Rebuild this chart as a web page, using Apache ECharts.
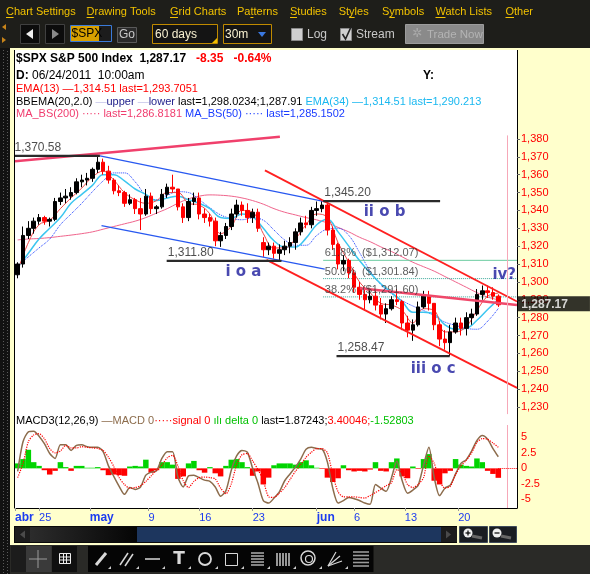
<!DOCTYPE html>
<html><head><meta charset="utf-8">
<script src="https://cdn.jsdelivr.net/npm/echarts@6/dist/echarts.min.js"></script>
<style>html,body{margin:0;padding:0;background:#1e1e1a;overflow:hidden}#c{width:590px;height:574px}</style>
</head><body><div id="c"></div><script>
// ---------------- DATA ----------------
// x axis: half-day slots (0 = 20 Apr 2011 am ... 90 = 24 Jun 2011 10:00am)
const xTickSlots  = [-0.5, 4, 13.5, 24.5, 34, 44, 56, 63, 72.5, 82.5];
const xTickLabels = ['abr','25','may','9','16','23','jun','6','13','20'];
const monthLabels = ['abr','may','jun'];
const priceTicks = [1230,1240,1250,1260,1270,1280,1290,1300,1310,1320,1330,1340,1350,1360,1370,1380];
const macdTicks = [-5,-2.5,0,2.5,5];
const lastClose = 1287.17;
const cursorSlot = 91.7;

// OHLC per half-day slot: [open, close, low, high]
const ohlc = [
[1304,1310,1302,1311],[1310,1326,1308,1331],[1326,1330,1324,1334],[1330,1334,1327,1336],[1334,1336,1332,1338],
[1336,1334,1332,1337],[1334,1335,1331,1336],[1335,1345,1334,1347],[1345,1347,1343,1350],[1347,1348,1344,1352],
[1348,1350,1346,1353],[1350,1356,1349,1358],[1356,1357,1353,1360],[1357,1358,1354,1361],[1358,1363,1356,1364],
[1363,1367,1361,1370.58],[1367,1362,1360,1369],[1362,1357,1355,1365],[1357,1351,1349,1358],[1351,1350,1348,1354],
[1350,1344,1342,1351],[1344,1346,1343,1349],[1346,1341,1338,1347],[1341,1338,1329,1347],[1338,1348,1337,1352],
[1348,1341,1338,1350],[1341,1342,1338,1343],[1342,1349,1341,1352],[1349,1353,1347,1355],[1353,1352,1350,1360],
[1352,1342,1340,1352],[1342,1336,1333,1344],[1336,1345,1334,1347],[1345,1347,1343,1350],[1347,1338,1335,1350],
[1338,1336,1333,1341],[1336,1334,1331,1338],[1334,1323,1320,1336],[1323,1326,1319.6,1328],[1326,1331,1324,1333],
[1331,1338,1329,1341],[1338,1343,1336,1346],[1343,1340,1337,1345],[1340,1336,1333,1344],[1336,1339,1333,1341],
[1339,1330,1328,1341],[1322,1318,1314,1325],[1318,1320,1315,1322],[1320,1316,1313,1322],[1316,1318,1311.8,1321],
[1318,1320,1315,1323],[1320,1322,1316,1325],[1322,1328,1318,1330],[1328,1333,1326,1336],[1333,1332,1330,1337],
[1332,1340,1330,1342],[1340,1341,1337,1345],[1341,1343,1339,1345.2],[1343,1329,1326,1344],[1329,1321,1318,1331],
[1321,1310,1307,1322],[1310,1312,1306,1315],[1312,1305,1302,1313],[1305,1297,1294,1307],[1297,1293,1290,1300],
[1293,1290,1284,1297],[1290,1292,1288,1296],[1292,1287,1284,1295],[1287,1282,1279,1291],[1282,1285,1277,1288],
[1285,1290,1284,1292],[1290,1289,1287,1296],[1289,1277,1273,1290],[1277,1273,1269,1281],[1273,1276,1267,1279],
[1276,1286,1275,1289],[1286,1292,1285,1295],[1292,1288,1284,1295],[1288,1276,1273,1288],[1276,1268,1264,1278],
[1268,1266,1262,1273],[1266,1272,1258.47,1276],[1272,1277,1271,1280],[1277,1274,1270,1280],[1274,1280,1270,1283],
[1280,1282,1276,1285],[1282,1293,1281,1296],[1293,1295,1290,1298],[1295,1294,1291,1298],[1294,1292,1290,1297],
[1292,1287.17,1286,1293]
];

// studies, one value per day (placed on slots 0,2,4,...,90)
const ema13 = [1306,1322,1332,1334.5,1341,1347,1352.5,1358.7,1362,1357,1350,1346,1344,1345.5,1350,1350,1344,1343,1338,1327,1331,1340,1339,1327,1319,1319,1324,1332,1338,1336,1322,1311,1300,1294,1288,1287,1284,1277,1285,1284,1272,1272,1275,1284,1292,1293.7];
const ema34 = [1308,1316,1324,1330,1336,1344,1349,1354,1360,1360,1356.5,1352,1349,1345.5,1347,1348,1346,1344,1341,1336,1335.5,1338,1336.5,1330,1323,1319.5,1319.5,1324.5,1332,1335,1328,1320,1312,1305,1299,1294,1289,1283,1283,1282,1276,1273.5,1274,1278.5,1284.5,1290.2];
const ma50  = [1309,1314,1319,1324,1332,1338,1344,1350.5,1356.5,1361,1361,1356,1348.5,1346,1348.5,1350.5,1350,1346,1341.5,1337.5,1335.5,1334.8,1335.8,1334.5,1329,1323.5,1320.5,1320.5,1326,1329.5,1330,1326,1316.5,1306,1298.5,1293.5,1289.5,1286.5,1284,1281,1277.5,1275.7,1274,1273.5,1278,1285.15];
const ma200 = [1323.5,1324,1324.3,1324.8,1325.5,1326.2,1327,1328,1329.5,1331,1332.5,1334,1336,1338.5,1341,1344,1346.5,1348,1348.7,1348.5,1348,1347,1345.5,1343.5,1341,1339,1337.5,1336,1334.7,1333,1330.5,1328,1325,1322.5,1319.6,1317,1314,1311,1308.5,1306,1303,1300,1297,1294,1291.5,1290];
const bbUpper = [1320,1342,1341,1338.5,1352,1357,1361,1366,1371,1365,1362,1359,1356.5,1356,1361,1360,1357.5,1354,1350,1345,1347,1349,1347,1341,1332,1327,1324,1331,1341,1345,1342,1334,1324,1314,1306,1300,1297,1295,1293,1291,1285,1281,1283,1290,1299,1298];
const bbLower = [1296,1303,1312,1322,1329,1336,1341,1347,1355,1345,1341,1338,1337,1339,1341.5,1338,1337,1335,1330,1320.5,1325,1330,1332,1314,1310,1312,1314,1316,1321,1322,1316,1301,1291,1286,1282,1281,1277,1266,1270,1270,1259,1263,1265,1270,1280,1285];

// MACD(12,26,9) per half-day slot
const macd = [-0.5,4.3,5.9,6.0,5.2,4.0,2.4,1.6,3.8,3.8, 2.9,3.7,3.8,3.5,3.4,3.4,2.7,0.4,-1.3,-2.9, -4.2,-3.1,-3.4,-3.0,-1.1,-0.6,-0.4,1.6,2.7,2.7, -1.4,-3.0,-1.2,-1.1,-1.5,-1.9,-2.1,-3.0,-4.5,-3.6, -0.3,2.0,2.9,2.6,0.0,-2.4,-5.2,-5.6,-4.8,-3.8, -2.0,-0.9,0.2,1.5,3.1,3.4,3.2,3.1,1.0,-3.2, -5.6,-5.2,-4.7,-4.9,-5.2,-5.6,-5.8,-2.6,-3.2,-3.7, -1.5,1.2,-2.0,-4.0,-3.5,-2.7,0.5,3.4,-1.5,-4.4, -3.2,-2.7,-0.9,0.8,1.4,2.8,4.5,5.3,4.7,3.2, 1.87];
const signal = [-1.5,0.8,4.3,5.4,5.6,4.8,3.2,2.5,2.8,3.7, 3.3,3.3,3.5,3.4,3.3,3.2,2.9,1.8,0.3,-1.5, -2.6,-3.2,-3.1,-2.8,-2.1,-1.2,-0.3,0.5,1.7,2.1, 0.4,-2.0,-3.1,-2.1,-1.5,-1.4,-1.5,-1.7,-3.2,-4.1, -2.5,0.6,2.2,2.4,1.2,-0.2,-2.0,-4.6,-4.7,-4.0, -3.1,-1.8,-0.5,0.6,1.8,2.6,3.2,3.2,2.5,-1.0, -3.8,-4.6,-4.6,-4.6,-4.7,-4.8,-4.4,-3.9,-3.4,-2.8, -2.3,-0.2,-0.8,-2.6,-3.1,-2.6,-1.5,2.0,0.8,-2.0, -3.2,-2.9,-1.0,0.4,1.3,2.5,4.2,4.8,4.7,4.1, 3.40];
const delta = [0.8,1.5,3.0,1.0,0.4,-0.3,-1.0,-0.4,1.0,0.2, -0.4,0.4,0.4,0.1,0.1,0.2,-0.3,-1.1,-1.0,-1.1, -1.2,0.3,0.4,0.3,1.4,-0.7,-0.3,1.0,1.0,0.6, -1.7,-1.3,0.8,1.2,-0.3,-0.7,0.2,-0.8,-1.3,0.4, 1.4,1.5,1.0,0.2,-1.2,-0.5,-2.6,-1.5,0.5,0.8, 0.8,0.8,0.6,1.0,1.3,0.5,0.1,-0.1,-1.5,-2.2, -1.6,0.5,-0.3,-0.5,-0.4,-0.5,-0.2,1.0,-0.4,-0.5, 1.0,1.6,-1.3,-1.6,0.3,-0.1,1.5,2.3,-2.0,-2.6, -0.8,-0.4,1.5,0.6,0.4,0.3,1.6,1.0,-0.4,-0.9, -1.53];

// drawn trend lines [slot, price]
const pinkTopLine   = [[-0.5,1367.5],[49.1,1381.3]];
const blueUpperLine = [[15.4,1370.5],[57.5,1344.9]];
const blueLowerLine = [[15.7,1331.5],[57.5,1307.1]];
const redUpperLine  = [[46.3,1362.4],[93.5,1289.0]];
const redLowerLine  = [[46.6,1312.3],[93.5,1240.7]];
const pinkLowLine   = [[64.1,1296.5],[93.5,1287.1]];
// horizontal swing levels
const levelValues = [1370.58,1345.20,1311.80,1258.47];
const levelStart  = [-0.5,57.2,27.9,59.7];
const levelEnd    = [15.4,79.1,49.4,80.9];
// wave labels
const waveText = ['i o a','ii o b','iii o c','iv?'];
const waveX = [38.8,64.7,73.5,88.8];
const waveY = [1305.2,1338.8,1251.3,1303.7];
// fibonacci retracement
const fibPct = ['61.8%','50.0%','38.2%'];
const fibVal = [1312.07,1301.84,1291.60];
const fibFrom = 57.2, fibTo = 93.5;

// ---------------- helpers ----------------
const F = 'Liberation Sans, Arial, sans-serif';
const CLEAR = 'rgba(0,0,0,0)';
function fmt(v,d){ return v.toFixed(d).replace(/\B(?=(\d{3})+(?!\d))/g, ','); }
const daySlots = a => a.map((v,i)=>[i*2, v]);

const chart = echarts.init(document.getElementById('c'), null, {renderer:'canvas'});

function lineSeries(pts, color, width, type, z){
  return {type:'line', xAxisIndex:0, yAxisIndex:0, data:pts, symbol:'none', silent:true,
    lineStyle:{color:color, width:width, type:type||'solid'}, z:z||4, animation:false};
}

const series = [];
series.push({type:'line', xAxisIndex:0,yAxisIndex:0, data:daySlots(bbLower), stack:'bb', symbol:'none', smooth:0.4,
  lineStyle:{width:0,color:CLEAR}, z:1, silent:true});
series.push({type:'line', xAxisIndex:0,yAxisIndex:0, data:bbUpper.map((v,i)=>[i*2, v-bbLower[i]]), stack:'bb', symbol:'none', smooth:0.4,
  lineStyle:{width:0,color:CLEAR}, areaStyle:{color:'#dcdcf2',opacity:1}, z:1, silent:true});
series.push({type:'line', xAxisIndex:0,yAxisIndex:0, data:daySlots(ma200), symbol:'none', smooth:0.4,
  lineStyle:{color:'#f0648c',width:1}, z:2, silent:true,
  markLine:{silent:true,symbol:'none',label:{show:false},data:[{xAxis:cursorSlot}],lineStyle:{color:'#f6a8b8',width:1,type:'solid'}}});
series.push({type:'line', xAxisIndex:0,yAxisIndex:0, data:daySlots(ma50), symbol:'none', smooth:0.4,
  lineStyle:{color:'#1e40ff',width:1,type:'dotted'}, z:2, silent:true});
series.push({type:'line', xAxisIndex:0,yAxisIndex:0, data:daySlots(ema34), symbol:'none', smooth:0.4,
  lineStyle:{color:'#3cc6f0',width:1.5}, z:2, silent:true});
series.push({type:'candlestick', xAxisIndex:0,yAxisIndex:0, data:ohlc.map((d,k)=>[k,d[0],d[1],d[2],d[3]]),
  encode:{x:0,y:[1,2,3,4]}, barWidth:4, z:3, silent:true,
  itemStyle:{color:'#000',color0:'#ff0000',borderColor:'#000',borderColor0:'#ff0000',borderWidth:1}});
series.push({type:'line', xAxisIndex:0,yAxisIndex:0, data:daySlots(ema13), symbol:'none', smooth:0.4,
  lineStyle:{color:'#f04848',width:1}, z:3, silent:true});
// trend lines
series.push(lineSeries(pinkTopLine,'#f0406c',2.5));
series.push(lineSeries(blueUpperLine,'#2858f0',1.2));
series.push(lineSeries(blueLowerLine,'#2858f0',1.2));
series.push(lineSeries(redUpperLine,'#ff2020',1.8));
series.push(lineSeries(redLowerLine,'#ff2020',1.8));
series.push(lineSeries(pinkLowLine,'#f0486a',2.5));
levelValues.forEach((v,i)=>series.push(lineSeries([[levelStart[i],v],[levelEnd[i],v]],'#2a2a2a',2.2,'solid',5)));
fibVal.forEach((v,i)=>series.push(lineSeries([[fibFrom,v],[fibTo,v]], i===0?'#6ccca0':'#3aa898', 1, i===0?'solid':'dotted',2)));
// annotation texts
const ann = [];
levelValues.forEach((v,i)=>ann.push({value:[levelStart[i]+(i===0?0:0.3), v],
  label:{show:true,position:[0,-14],formatter:fmt(v,2),fontSize:12,color:'#222',fontFamily:F}}));
waveText.forEach((t,i)=>ann.push({value:[waveX[i],waveY[i]],
  label:{show:true,position:'right',distance:0,formatter:t,fontSize:15,fontWeight:'bold',color:'#1c1c9c',fontFamily:'DejaVu Sans'}}));
fibPct.forEach((t,i)=>ann.push({value:[fibFrom+0.4,fibVal[i]],
  label:{show:true,position:[0,-12],formatter:t+'  ($'+fmt(fibVal[i],2)+')',fontSize:11,color:'#333',fontFamily:F}}));
ann.push({value:[93.45,lastClose],
  label:{show:true,position:[1,-8],formatter:fmt(lastClose,2),color:'#fff',backgroundColor:'#000',
    fontWeight:'bold',fontSize:12,fontFamily:F,padding:[2,22,1,4]}});
series.push({type:'scatter', xAxisIndex:0,yAxisIndex:0, data:ann, symbol:'circle', symbolSize:1, itemStyle:{color:CLEAR}, z:6, silent:true,
  label:{show:true}, labelLayout:{hideOverlap:false}});
// MACD pane
series.push({type:'bar', xAxisIndex:1,yAxisIndex:1, data:delta.map((v,k)=>[k,v]), barWidth:5.5, silent:true, z:2,
  itemStyle:{color:p=>p.value[1]>=0?'#00d400':'#ff0000'}});
series.push({type:'line', xAxisIndex:1,yAxisIndex:1, data:macd.map((v,k)=>[k,v]), symbol:'none', smooth:0.25, silent:true, z:3,
  lineStyle:{color:'#8c6c4c',width:1.5},
  markLine:{silent:true,symbol:'none',label:{show:false},data:[{xAxis:cursorSlot}],lineStyle:{color:'#f6a8b8',width:1,type:'solid'}}});
series.push({type:'line', xAxisIndex:1,yAxisIndex:1, data:signal.map((v,k)=>[k,v]), symbol:'none', smooth:0.25, silent:true, z:4,
  lineStyle:{color:'#ff0000',width:1.2,type:'dotted'},
  markLine:{silent:true,symbol:'none',label:{show:false},data:[[{coord:[macd.length-1,0]},{coord:[93.5,0]}]],
    lineStyle:{color:'#ff0000',width:1,type:'dotted'}}});

// ---------------- decorations ----------------
const G = [];
const T = (x,y,text,fill,font,extra)=>G.push(Object.assign({type:'text',x:x,y:y,z:20,silent:true,
  style:Object.assign({text:text,fill:fill,font:font,verticalAlign:'middle',align:'left'},extra||{})}));
const R = (x,y,w,h,fill,stroke,z)=>G.push({type:'rect',z:z==null?-10:z,silent:true,shape:{x:x,y:y,width:w,height:h},
  style:{fill:fill,stroke:stroke||null,lineWidth:1}});
const L = (x1,y1,x2,y2,stroke,w,dash,z)=>G.push({type:'line',z:z==null?-9:z,silent:true,shape:{x1:x1,y1:y1,x2:x2,y2:y2},
  style:{stroke:stroke,lineWidth:w||1,lineDash:dash||null}});
const P = (pts,fill,z)=>G.push({type:'polygon',z:z==null?21:z,silent:true,shape:{points:pts},style:{fill:fill}});

// panels
R(10,48,580,497,'#ffffcc');
R(15,50,502,458,'#ffffff',null,-9);
L(14.5,50,14.5,508,'#000',1,null,-8);
L(517.5,50,517.5,508,'#000',1,null,-8);
// left dotted grip
R(0,48,10,526,'#121212',null,-7);
L(3.5,50,3.5,574,'#5a5a5a',1,[1,2],-6);
L(7.5,51,7.5,574,'#5a5a5a',1,[1,2],-6);
// menu bar
const menu = ['Chart Settings','Drawing Tools','Grid Charts','Patterns','Studies','Styles','Symbols','Watch Lists','Other'];
const menuX = [6,86.6,170,237,290,338.7,382,435.5,505.5];
const ulOff = [0,0,0,13.4,0,10.4,7.3,0,0], ulW = [7.5,7.5,8,3,7,5.5,5.5,10,8.5];
menu.forEach((m,i)=>{ T(menuX[i],11.5,m,'#f2c200','11px '+F); R(menuX[i]+ulOff[i],17,ulW[i],1,'#f2c200',null,21); });
// toolbar row
P([[6,24],[2,27],[6,30]],'#c8841a'); P([[2,37],[6,40],[2,43]],'#c8841a');
R(20.5,24.5,19,19,'#0c0c0c','#404040',20); P([[33,29],[26,34],[33,39]],'#eeeeee');
R(45.5,24.5,19,19,'#0c0c0c','#404040',20); P([[52,29],[59,34],[52,39]],'#8a8a8a');
R(70.5,25.5,41,16,'#1c1c1c','#3a7ad8',20); R(71,26,28,15,'#d8a000',null,20);
T(71.5,34,'$SPX','#000','12px '+F);
R(117.5,27.5,19,15,'#2a2a2a','#5a5a5a',20); T(127,35,'Go','#c8c8c8','12px '+F,{align:'center'});
R(152.5,24.5,65,19,'#141414','#c08a00',20); T(155,35,'60 days','#f8f0d0','12px '+F); P([[217,38],[217,43],[212,43]],'#f0c000');
R(223.5,24.5,48,19,'#141414','#c08a00',20); T(225,34.5,'30m','#f8f0d0','12px '+F); P([[258,32],[266,32],[262,37]],'#3a78e0');
R(291.5,28.5,11,12,'#cfcfcf','#8a8a8a',20); T(307,35,'Log','#c8c8c8','12px '+F);
R(340.5,28.5,11,12,'#cfcfcf','#8a8a8a',20);
G.push({type:'polyline',z:22,silent:true,shape:{points:[[342.5,34],[345.5,39],[351,27]]},style:{stroke:'#222',lineWidth:1.6,fill:null}});
T(356,35,'Stream','#c8c8c8','12px '+F);
R(405.5,24.5,78,19,'#8a8a8a','#9c9c9c',20); T(417,34,'✲','#aaaaaa','12px DejaVu Sans',{align:'center'}); T(427,34.5,'Trade Now','#b4b4b4','11.5px '+F);
// header texts
T(16,59,'{b|$SPX S&P 500 Index  1,287.17}{r|   -8.35   -0.64%}','#000','bold 12px '+F,
  {rich:{b:{fill:'#000',font:'bold 12px '+F},r:{fill:'#ff0000',font:'bold 12px '+F}}});
T(16,76,'{b|D:} {n|06/24/2011  10:00am}','#000','12px '+F,{rich:{b:{fill:'#000',font:'bold 12px '+F},n:{fill:'#000',font:'12px '+F}}});
T(423,76,'Y:','#000','bold 12px '+F);
T(16,89,'EMA(13) —1,314.51 last=1,293.7051','#ff0000','11px '+F);
T(16,102,'{k|BBEMA(20,2.0) }{l|—}{u|upper }{l|—}{u|lower }{k|last=1,298.0234;1,287.91 }{c|EMA(34) —1,314.51 last=1,290.213}','#000','11px '+F,
  {rich:{k:{fill:'#000',font:'11px '+F},l:{fill:'#c4c4ea',font:'11px '+F},u:{fill:'#22228c',font:'11px '+F},c:{fill:'#1ab8f0',font:'11px '+F}}});
T(16,114,'{p|MA_BS(200) ····· last=1,286.8181 }{b|MA_BS(50) ····· last=1,285.1502}','#000','11px '+F,
  {rich:{p:{fill:'#f03c6e',font:'11px '+F},b:{fill:'#1a3cff',font:'11px '+F}}});
T(16,421,'{k|MACD3(12,26,9) }{m|—MACD 0}{r|·····signal 0 }{g|ılı delta 0 }{k|last=1.87243;}{r|3.40046;}{g|-1.52803}','#000','11px '+F,
  {rich:{k:{fill:'#000',font:'11px '+F},m:{fill:'#8c6c4c',font:'11px '+F},r:{fill:'#ff0000',font:'11px '+F},g:{fill:'#00c000',font:'11px '+F}}});
// scrollbar
R(14,526,443,17,'#0a0a0a',null,20);
R(15,527,15,15,'#1c1c1c',null,20); P([[25,530.5],[20,534.5],[25,538.5]],'#4a4a4a');
G.push({type:'rect',z:20,silent:true,shape:{x:30,y:527,width:107,height:15},
  style:{fill:new echarts.graphic.LinearGradient(0,0,1,0,[{offset:0,color:'#2c2c2c'},{offset:1,color:'#050505'}])}});
R(137,527,304,15,'#1d365e',null,20);
R(441,527,16,15,'#1c1c1c',null,20); P([[446,530.5],[451,534.5],[446,538.5]],'#4a4a4a');
R(459.5,526.5,28,16,'#1a1d22','#3e4a5a',20); R(489.5,526.5,27,16,'#1a1d22','#3e4a5a',20);
G.push({type:'circle',z:21,silent:true,shape:{cx:468,cy:533,r:4.5},style:{fill:'#f0f0f0'}});
G.push({type:'circle',z:21,silent:true,shape:{cx:497,cy:533,r:4.5},style:{fill:'#f0f0f0'}});
L(472,536,482,538,'#666',3,null,21); L(501,536,511,538,'#666',3,null,21);
L(465.5,533,470.5,533,'#000',1.2,null,22); L(468,530.5,468,535.5,'#000',1.2,null,22); L(494.5,533,499.5,533,'#000',1.2,null,22);
// bottom toolbar
R(10,545,580,29,'#2a2a27',null,-7);
R(11,546,15,26,'#1c1c1c',null,-6);
R(26,546,25.5,26,'#3a3a3a',null,-6); R(52,546,25,26,'#101010',null,-6);
L(38,550,38,568,'#9a9a9a',1,null,22); L(29,559,47,559,'#9a9a9a',1,null,22);
R(59.5,553.5,11,10,null,'#eeeeee',22); L(60,557,70,557,'#eee',1,null,22); L(60,560,70,560,'#eee',1,null,22); L(63.5,554,63.5,563,'#eee',1,null,22); L(66.5,554,66.5,563,'#eee',1,null,22);
R(88,546,285.5,26,'#050505',null,-6);
const gi = '#d8d8d8';
L(96,565,106,553,gi,3,null,22);
L(120,565,128,553,gi,1.5,null,22); L(125,566,133,554,gi,1.5,null,22);
L(145,559,160,559,gi,1.5,null,22);
T(179,560,'T',gi,'bold 17px DejaVu Sans',{align:'center'});
G.push({type:'circle',z:22,silent:true,shape:{cx:205,cy:559,r:6},style:{fill:null,stroke:gi,lineWidth:1.8}});
R(225.5,553.5,12,12,null,gi,22);
[553,556,559,562,565].forEach(y=>L(251,y,264,y,gi,1.2,null,22));
[277,280,283,286,289].forEach(x=>L(x,553,x,566,gi,1.4,null,22));
G.push({type:'circle',z:22,silent:true,shape:{cx:308,cy:558,r:7},style:{fill:null,stroke:gi,lineWidth:1.5}});
G.push({type:'circle',z:22,silent:true,shape:{cx:309,cy:559,r:3.5},style:{fill:null,stroke:gi,lineWidth:1.2}});
L(328,566,336,552,gi,1.2,null,22); L(328,566,340,556,gi,1.2,null,22); L(328,566,342,561,gi,1.2,null,22);
[552,555.5,559,562.5,566].forEach(y=>L(353,y,369,y,'#9a9a9a',1.6,null,22));
[111,139,165,191,218,244,270,296,322,348].forEach(x=>P([[x,569],[x,566],[x-3,569]],'#cccccc'));

const option = {
  animation:false,
  backgroundColor:'#1e1e1a',
  textStyle:{fontFamily:F},
  grid:[
    {left:15,width:502,top:135.4,height:278.7,outerBoundsMode:'none',containLabel:false},
    {left:15,width:502,top:425,height:83,outerBoundsMode:'none',containLabel:false}
  ],
  xAxis:[
    {gridIndex:0,type:'value',min:-0.5,max:93.5,show:false,axisLine:{onZero:false},splitLine:{show:false}},
    {gridIndex:1,type:'value',min:-0.5,max:93.5,
      axisLine:{onZero:false,lineStyle:{color:'#000',width:1}},
      axisTick:{show:true,customValues:xTickSlots,length:3,lineStyle:{color:'#999'}},
      axisLabel:{customValues:xTickSlots,align:'left',margin:4,color:'#1c3cf0',fontSize:11,fontFamily:F,
        formatter:v=>{const i=xTickSlots.indexOf(v); if(i<0) return ''; const t=xTickLabels[i]; return monthLabels.indexOf(t)>=0?'{m|'+t+'}':t;},
        rich:{m:{fontWeight:'bold',fontSize:12,color:'#1c3cf0',fontFamily:F}}},
      splitLine:{show:false}}
  ],
  yAxis:[
    {gridIndex:0,type:'value',position:'right',min:1226,max:1382,
      axisLine:{show:true,onZero:false,lineStyle:{color:'#000'}},
      axisTick:{show:true,customValues:priceTicks,length:3,lineStyle:{color:'#666'}},
      axisLabel:{customValues:priceTicks,formatter:v=>fmt(v,0),color:'#ff0000',fontSize:11,fontFamily:F,margin:4},
      splitLine:{show:false}},
    {gridIndex:1,type:'value',position:'right',min:-6.4,max:7.0,
      axisLine:{show:true,onZero:false,lineStyle:{color:'#000'}},
      axisTick:{show:false},
      axisLabel:{customValues:macdTicks,formatter:v=>String(v),color:'#ff0000',fontSize:11,fontFamily:F,margin:4},
      splitLine:{show:false}}
  ],
  graphic:G,
  series:series
};
chart.setOption(option);
</script></body></html>
